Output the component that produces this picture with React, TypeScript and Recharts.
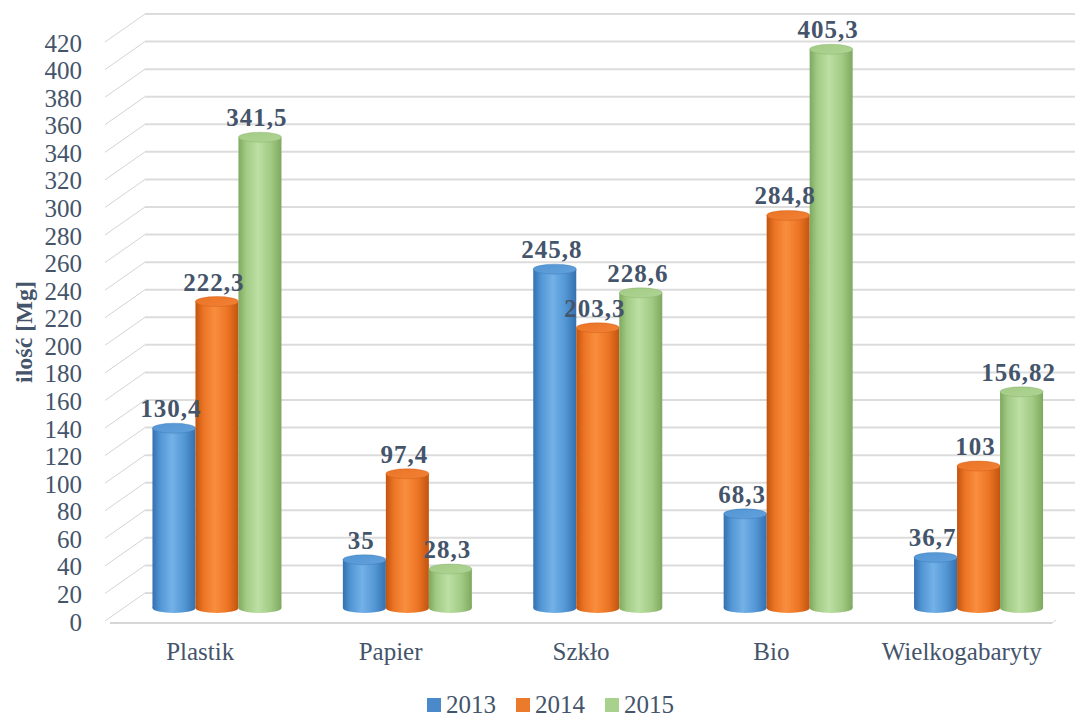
import React from 'react';
import { BarChart, Bar, XAxis, YAxis, CartesianGrid, LabelList, Legend } from 'recharts';

const categories = ['Plastik', 'Papier', 'Szkło', 'Bio', 'Wielkogabaryty'];
const values2013 = [130.4, 35, 245.8, 68.3, 36.7];
const values2014 = [222.3, 97.4, 203.3, 284.8, 103];
const values2015 = [341.5, 28.3, 228.6, 405.3, 156.82];
const yTicks = [0, 20, 40, 60, 80, 100, 120, 140, 160, 180, 200, 220, 240, 260, 280, 300, 320, 340, 360, 380, 400, 420];
const seriesNames = ['2013', '2014', '2015'];

const data = categories.map((c, i) => ({
  name: c,
  '2013': values2013[i],
  '2014': values2014[i],
  '2015': values2015[i],
}));

const TEXT = '#44546A';
const FONT = '"Liberation Serif", "Times New Roman", serif';

const palettes: Record<string, { dark: string; mid: string; light: string; top: string; legend: string }> = {
  '2013': { dark: '#3470B0', mid: '#5296D4', light: '#74B1E8', top: '#62A0DC', legend: '#4A8ACB' },
  '2014': { dark: '#C2540F', mid: '#EB7424', light: '#F98E3E', top: '#F18137', legend: '#EC7A2C' },
  '2015': { dark: '#7FA85F', mid: '#A2CB85', light: '#BCDFA3', top: '#AFD494', legend: '#A9D18E' },
};

function Cylinder(props: any) {
  const { x, y, width, height, seriesKey } = props;
  if (x == null || y == null) return null;
  const p = palettes[seriesKey];
  const gid = `cyl-${seriesKey}`;
  const tid = `cylTop-${seriesKey}`;
  const ry = 5;
  const cx = x + width / 2;
  return (
    <g>
      <defs>
        <linearGradient id={gid} x1="0" y1="0" x2="1" y2="0">
          <stop offset="0%" stopColor={p.dark} />
          <stop offset="18%" stopColor={p.mid} />
          <stop offset="45%" stopColor={p.light} />
          <stop offset="75%" stopColor={p.mid} />
          <stop offset="100%" stopColor={p.dark} />
        </linearGradient>
        <linearGradient id={tid} x1="0" y1="0" x2="1" y2="1">
          <stop offset="0%" stopColor={p.mid} />
          <stop offset="100%" stopColor={p.top} />
        </linearGradient>
      </defs>
      <ellipse cx={cx} cy={y + height} rx={width / 2} ry={ry} fill={`url(#${gid})`} />
      <rect x={x} y={y} width={width} height={Math.max(0, height)} fill={`url(#${gid})`} />
      <ellipse cx={cx} cy={y} rx={width / 2} ry={ry} fill={`url(#${tid})`} stroke={p.dark} strokeOpacity={0.35} strokeWidth={1} />
    </g>
  );
}

function GridLine(props: any) {
  const { x1, x2, y1, index } = props;
  const y = y1;
  const backLeft = x1 + 23;
  const frontLeft = x1 - 17;
  const isFloor = index === 0;
  return (
    <g key={`g-${index}`}>
      <line x1={backLeft} x2={x2 + 1} y1={y - 15} y2={y - 15} stroke="#DCDCDC" strokeWidth={2} />
      <line x1={frontLeft} y1={y + 13} x2={backLeft} y2={y - 15} stroke="#D4D4D4" strokeWidth={1} />
      {isFloor && (
        <g>
          <line x1={frontLeft + 5} x2={x2 - 22} y1={y + 15} y2={y + 15} stroke="#D6D6D6" strokeWidth={2} />
          <line x1={x2 - 22} y1={y + 15} x2={x2 - 18} y2={y + 12} stroke="#D6D6D6" strokeWidth={1} />
        </g>
      )}
    </g>
  );
}

function YTick(props: any) {
  const { y, payload } = props;
  return (
    <text x={82} y={y + 14} textAnchor="end" dominantBaseline="central" fill={TEXT} fontFamily={FONT} fontSize={25}>
      {payload.value}
    </text>
  );
}

function XTick(props: any) {
  const { x, y, payload } = props;
  return (
    <text x={x - 17} y={y + 44} textAnchor="middle" fill={TEXT} fontFamily={FONT} fontSize={25}>
      {payload.value}
    </text>
  );
}

function ValueLabel(props: any) {
  const { x, y, width, value } = props;
  return (
    <text x={x + width / 2 - 3} y={y - 11} textAnchor="middle" fill={TEXT} fontFamily={FONT} fontSize={25} fontWeight="bold" letterSpacing={1}>
      {String(value).replace('.', ',')}
    </text>
  );
}

function LegendContent() {
  return (
    <div style={{ display: 'flex', justifyContent: 'center', alignItems: 'center', fontFamily: FONT, fontSize: 25, color: TEXT, lineHeight: '29px' }}>
      {seriesNames.map((s) => (
        <div key={s} style={{ display: 'flex', alignItems: 'center', marginRight: 20 }}>
          <div style={{ width: 14, height: 14, background: palettes[s].legend, marginRight: 5 }} />
          <span>{s}</span>
        </div>
      ))}
    </div>
  );
}

export default function App() {
  return (
    <div style={{ position: 'absolute', left: 0, top: 0, width: 1081, height: 720, background: '#fff' }}>
      <BarChart
        width={1081}
        height={720}
        data={data}
        margin={{ top: 29, right: 7, left: 0, bottom: 23 }}
        barGap={0}
        barCategoryGap="16%"
      >
        <CartesianGrid vertical={false} horizontal={(p: any) => <GridLine {...p} />} stroke="#DCDCDC" />
        <XAxis dataKey="name" axisLine={false} tickLine={false} height={60} tick={<XTick />} interval={0} />
        <YAxis
          width={122}
          domain={[0, 420]}
          ticks={yTicks}
          axisLine={false}
          tickLine={false}
          tick={<YTick />}
          interval={0}
        />
        <Legend content={<LegendContent />} wrapperStyle={{ top: 690, left: 20, width: 1081 }} />
        {seriesNames.map((s) => (
          <Bar key={s} dataKey={s} isAnimationActive={false} shape={(p: any) => <Cylinder {...p} seriesKey={s} />}>
            <LabelList dataKey={s} content={<ValueLabel />} />
          </Bar>
        ))}
        <text x={24} y={332} transform="rotate(-90 24 332)" textAnchor="middle" dominantBaseline="central" fill={TEXT} fontFamily={FONT} fontSize={24} fontWeight="bold">
          ilość [Mg]
        </text>
      </BarChart>
    </div>
  );
}
